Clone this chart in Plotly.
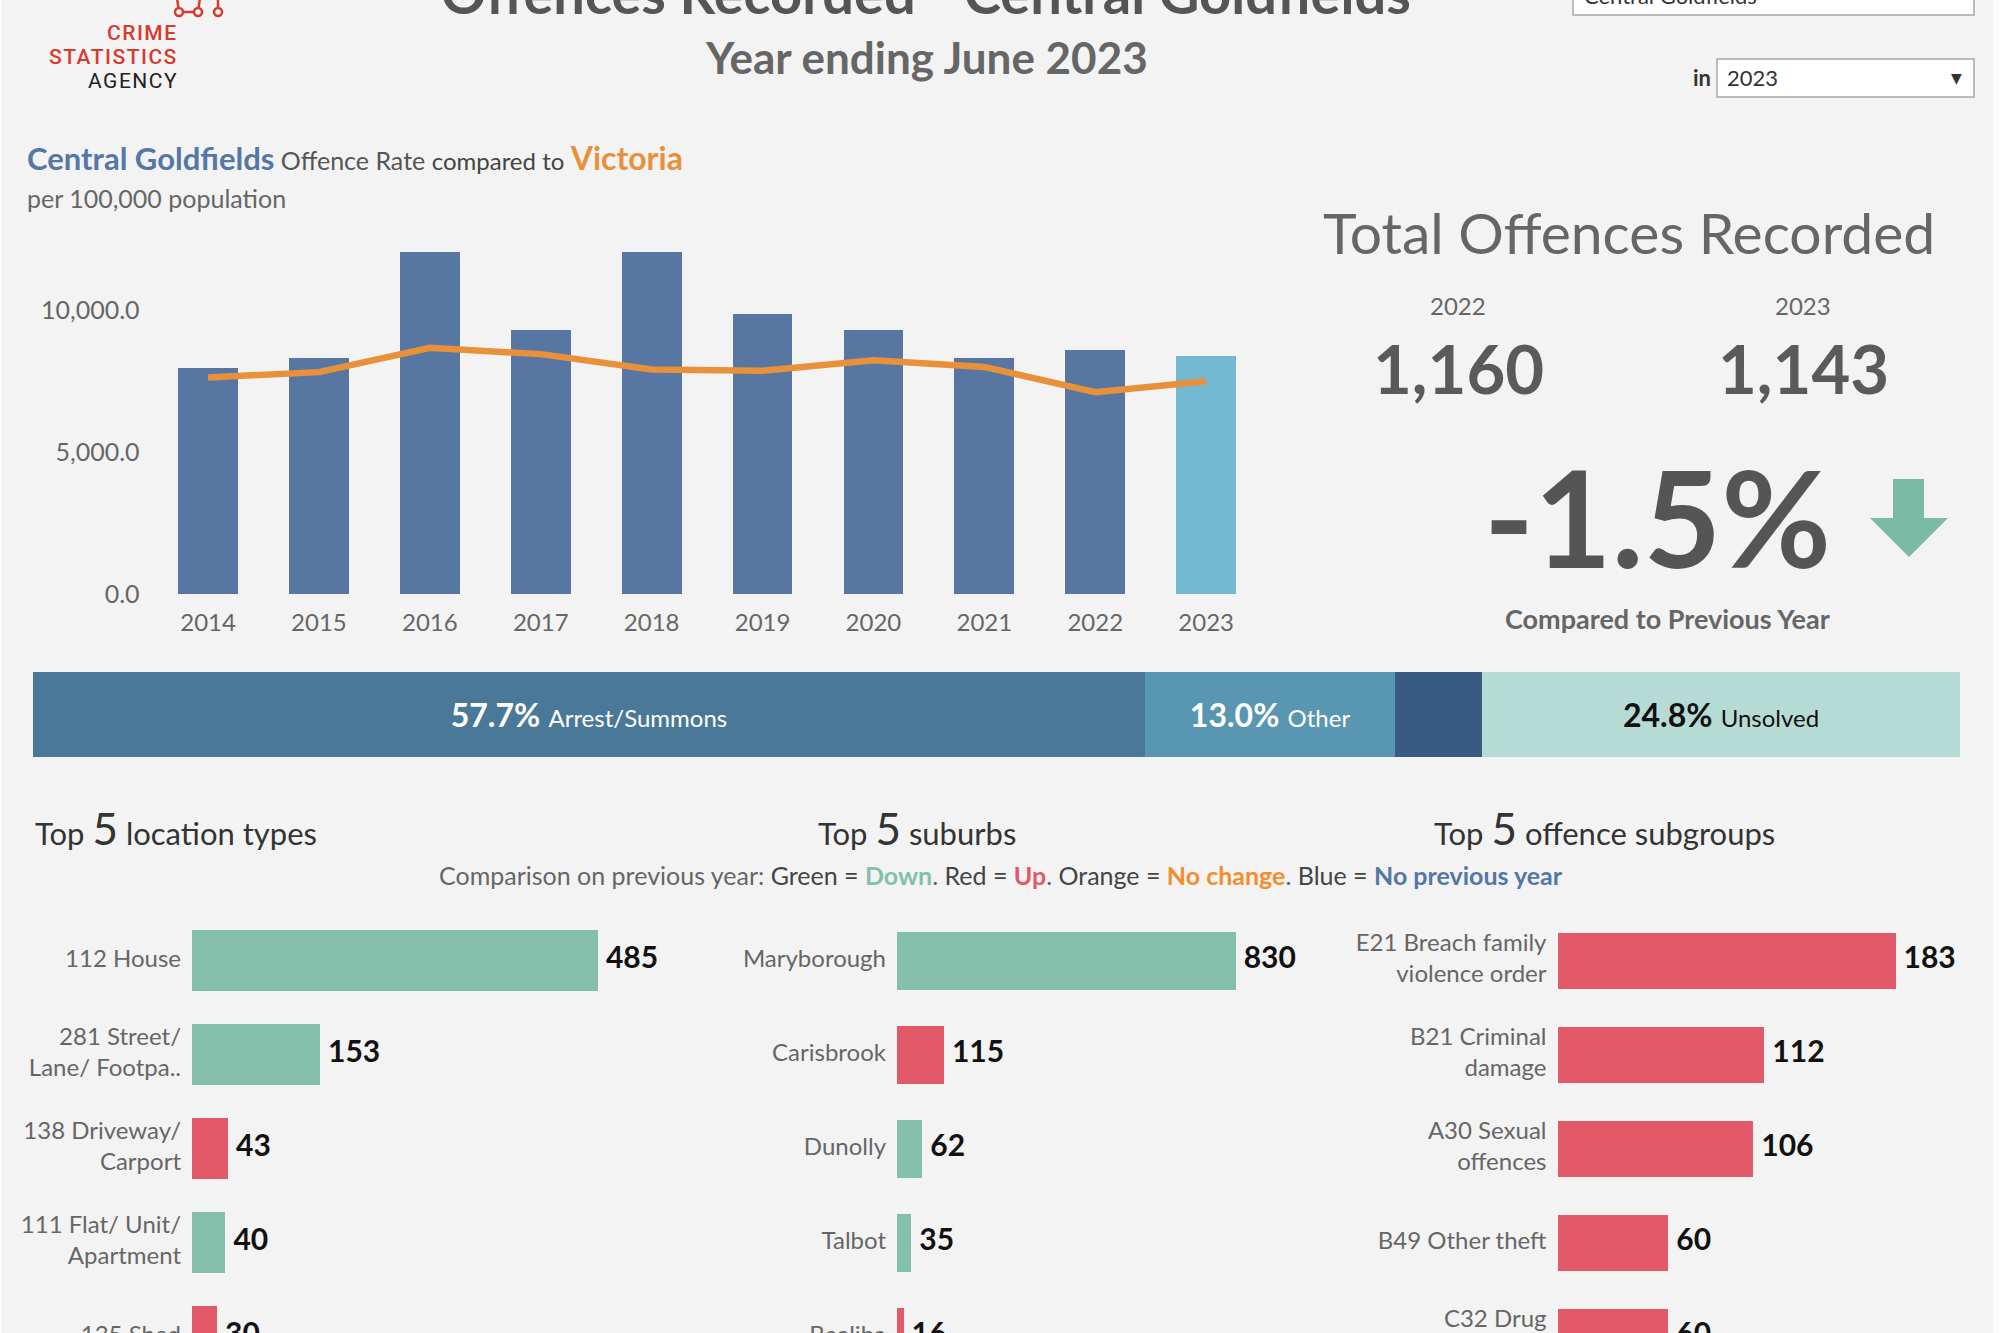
import plotly.graph_objects as go

# ---------------- data ----------------
years = ["2014", "2015", "2016", "2017", "2018", "2019", "2020", "2021", "2022", "2023"]
cg_rate = [7970, 8320, 12040, 9310, 12040, 9860, 9310, 8320, 8600, 8400]
vic_rate = [7630, 7815, 8670, 8450, 7910, 7860, 8230, 8000, 7105, 7495]
rate_ticks = [0, 5000, 10000]

total_years = ["2022", "2023"]
total_offences = [1160, 1143]
pct_change = -1.5

outcome_names = ["Arrest/Summons", "Other", "Other outcomes", "Unsolved"]
outcome_share = [57.7, 13.0, 4.5, 24.8]
outcome_labelled = [True, True, False, True]

loc_labels = ["112 House", "281 Street/<br>Lane/ Footpa..", "138 Driveway/<br>Carport",
              "111 Flat/ Unit/<br>Apartment", "135 Shed"]
loc_values = [485, 153, 43, 40, 30]
loc_status = ["down", "down", "up", "down", "up"]

sub_labels = ["Maryborough", "Carisbrook", "Dunolly", "Talbot", "Bealiba"]
sub_values = [830, 115, 62, 35, 16]
sub_status = ["down", "up", "down", "down", "up"]

grp_labels = ["E21 Breach family<br>violence order", "B21 Criminal<br>damage", "A30 Sexual<br>offences",
              "B49 Other theft", "C32 Drug<br>use and possession"]
grp_values = [183, 112, 106, 60, 60]
grp_status = ["up", "up", "up", "up", "up"]

# ---------------- style ----------------
W = 2000
H = 1400          # figure is a bit taller than the window; the window shows its top part
K = 1.0100        # vertical correction of the layout grid (window height vs. picture height)
BG = "#f3f3f3"
FONT = "Lato"
GREY = "#666666"
DARK = "#555555"
BLUE = "#5777a2"
LIGHTBLUE = "#73b8d1"
ORANGE = "#e8913a"
GREEN = "#83bfab"
RED = "#e25a69"
STATUS_COLORS = {"down": GREEN, "up": RED, "same": "#f28e2b", "new": "#4e79a7"}
OUTCOME_COLORS = ["#4a7899", "#5996b2", "#385a83", "#b6dbd4"]
OUTCOME_TEXT = ["white", "white", "white", "#111111"]


def fx(x):
    return x / W


def fy(y):
    return 1 - (y * K) / H


fig = go.Figure()

# ---- top chart: bars + Victoria line ----
fig.add_trace(go.Bar(
    x=years, y=cg_rate, width=0.54,
    marker=dict(color=[BLUE] * (len(years) - 1) + [LIGHTBLUE], line=dict(width=0)),
    xaxis="x", yaxis="y", hoverinfo="skip"))
fig.add_trace(go.Scatter(
    x=years, y=vic_rate, mode="lines", line=dict(color=ORANGE, width=6.5),
    xaxis="x", yaxis="y", hoverinfo="skip"))

# ---- stacked outcome bar ----
for name, share, lab, col, tcol in zip(outcome_names, outcome_share, outcome_labelled,
                                       OUTCOME_COLORS, OUTCOME_TEXT):
    txt_ = f"<b>{share:.1f}%</b> <span style='font-size:24px'>{name}</span>" if lab else ""
    fig.add_trace(go.Bar(
        x=[share], y=["status"], orientation="h", width=1,
        marker=dict(color=col, line=dict(width=0)),
        text=[txt_], textposition="inside", insidetextanchor="middle",
        textfont=dict(size=32, color=tcol, family=FONT), constraintext="none",
        xaxis="x2", yaxis="y2", hoverinfo="skip"))

# ---- bottom three bar charts ----
ROW_TOP = 914     # px top of first row slot
ROW_H = 94        # px per row
panels = [
    # labels, values, status, axis id, domain left px, zero px, px per unit, domain right px, bar width
    (loc_labels, loc_values, loc_status, 3, 0, 192, 0.837, 700, 0.65),
    (sub_labels, sub_values, sub_status, 4, 710, 897, 0.408, 1296, 0.61),
    (grp_labels, grp_values, grp_status, 5, 1304, 1557.5, 1.847, 1990, 0.59),
]
LABEL_GAP = 11
VALUE_GAP = 8
axis_layout = {}
n_visible = (H / K - ROW_TOP) / ROW_H
for labels, values, status, aid, dleft, zero, ppu, dright, bw in panels:
    xa, ya = f"x{aid}", f"y{aid}"
    fig.add_trace(go.Bar(
        x=values, y=labels, orientation="h", width=bw,
        marker=dict(color=[STATUS_COLORS[s] for s in status], line=dict(width=0)),
        xaxis=xa, yaxis=ya, hoverinfo="skip"))
    fig.add_trace(go.Scatter(
        x=[-LABEL_GAP / ppu] * len(labels), y=labels, mode="text", text=labels,
        textposition="middle left", textfont=dict(size=24, color=GREY, family=FONT),
        cliponaxis=True, xaxis=xa, yaxis=ya, hoverinfo="skip"))
    fig.add_trace(go.Scatter(
        x=[v + VALUE_GAP / ppu for v in values], y=labels, mode="text",
        text=[f"<b>{v:,}</b>" for v in values],
        textposition="middle right", textfont=dict(size=30, color="#111111", family=FONT),
        cliponaxis=True, xaxis=xa, yaxis=ya, hoverinfo="skip"))
    axis_layout[f"xaxis{aid}"] = dict(domain=[fx(dleft), fx(dright)],
                                      range=[-(zero - dleft) / ppu, (dright - zero) / ppu],
                                      visible=False, fixedrange=True)
    axis_layout[f"yaxis{aid}"] = dict(domain=[0, fy(ROW_TOP)], type="category",
                                      categoryorder="array", categoryarray=labels,
                                      range=[-0.5 + n_visible, -0.5], visible=False, fixedrange=True)

fig.update_layout(
    width=W, height=H, margin=dict(l=0, r=0, t=0, b=0),
    paper_bgcolor=BG, plot_bgcolor=BG, showlegend=False, barmode="stack",
    font=dict(family=FONT, color=GREY),
    xaxis=dict(domain=[fx(152.6), fx(1261.6)], type="category", range=[-0.5, 9.5],
               showgrid=False, zeroline=False, showline=False, ticks="",
               tickfont=dict(size=24, color=GREY), ticklabelstandoff=12, fixedrange=True),
    yaxis=dict(domain=[fy(594), fy(225)], range=[0, 13000], tickvals=rate_ticks, tickformat=",.1f",
               showgrid=False, zeroline=False, showline=False, ticks="",
               tickfont=dict(size=25, color=GREY), ticklabelstandoff=12, fixedrange=True),
    xaxis2=dict(domain=[fx(33), fx(1960)], range=[0, sum(outcome_share)], visible=False, fixedrange=True),
    yaxis2=dict(domain=[fy(757), fy(672)], range=[-0.5, 0.5], visible=False, fixedrange=True),
    **axis_layout,
)


def txt(x, y, s, size, color, xanchor="center", family=FONT, weight=None):
    font = dict(size=size, color=color, family=family)
    if weight:
        font["weight"] = weight
    return dict(x=fx(x), y=fy(y), xref="paper", yref="paper", text=s, showarrow=False,
                xanchor=xanchor, yanchor="middle", font=font)


ann = []
# header
ann.append(txt(926, -8, "<b>Offences Recorded - Central Goldfields</b>", 56, DARK))
ann.append(txt(926, 57, "<b>Year ending June 2023</b>", 44, GREY))
# logo
LS = "<span style='letter-spacing:1.5px'>{}</span>"
ann.append(txt(180, 33, LS.format("CRIME"), 21, "#d63b2f", "right", "Roboto", 500))
ann.append(txt(180, 57, LS.format("STATISTICS"), 21, "#d63b2f", "right", "Roboto", 500))
ann.append(txt(180, 81, LS.format("AGENCY"), 21, "#222222", "right", "Roboto"))
# dropdowns
ann.append(txt(1582, -5, "Central Goldfields", 22, "#333333", "left"))
ann.append(txt(1713, 78, "<b>in</b>", 22, "#333333", "right"))
ann.append(txt(1725, 78, total_years[1], 22, "#333333", "left"))
ann.append(txt(1956, 78, "▼", 14, "#333333", "center", "DejaVu Sans"))
# chart title
ann.append(txt(25, 158,
               "<b><span style='color:#5477a6;font-size:31px'>Central Goldfields</span></b> "
               "<span style='font-size:25px'>Offence Rate</span> "
               "<span style='font-size:24px;color:#444'>compared to</span> "
               "<b><span style='color:#e8913a;font-size:32px'>Victoria</span></b>",
               25, DARK, "left"))
ann.append(txt(25, 198, "per 100,000 population", 25, GREY, "left"))
# KPI
ann.append(txt(1629, 232, "Total Offences Recorded", 57, GREY))
kpi_x = [1458, 1803]
for xx, yr, val in zip(kpi_x, total_years, total_offences):
    ann.append(txt(xx, 306, yr, 24, GREY))
    ann.append(txt(xx, 368, f"<b>{val:,}</b>", 67, "#5a5a5a"))
ann.append(txt(1657, 517, f"<b>{pct_change:.1f}%</b>", 134, DARK))
ann.append(txt(1667, 619, "<b>Compared to Previous Year</b>", 27, GREY))
# section headings
ann.append(txt(33, 828, "Top <span style='font-size:44px'>5</span> location types", 31, "#333333", "left"))
ann.append(txt(816, 828, "Top <span style='font-size:44px'>5</span> suburbs", 31, "#333333", "left"))
ann.append(txt(1432, 828, "Top <span style='font-size:44px'>5</span> offence subgroups", 31, "#333333", "left"))
ann.append(txt(1001, 875,
               "Comparison on previous year: <span style='color:#444'>Green =</span> "
               f"<b><span style='color:{GREEN}'>Down</span></b>. <span style='color:#444'>Red =</span> "
               f"<b><span style='color:{RED}'>Up</span></b>. <span style='color:#444'>Orange =</span> "
               "<b><span style='color:#f28e2b'>No change</span></b>. <span style='color:#444'>Blue =</span> "
               "<b><span style='color:#5477a6'>No previous year</span></b>",
               25, GREY))
fig.update_layout(annotations=ann)

# ---------------- decorative shapes ----------------
shapes = []
# page edges
shapes.append(dict(type="rect", xref="paper", yref="paper", x0=fx(1993), x1=1, y0=0, y1=1,
                   fillcolor="#fbfbfb", line=dict(width=0), layer="below"))
shapes.append(dict(type="rect", xref="paper", yref="paper", x0=0, x1=fx(2), y0=0, y1=1,
                   fillcolor="#fbfbfb", line=dict(width=0), layer="below"))
# dropdown boxes
for (x0, y0, x1, y1) in [(1573, -10, 1974, 15), (1717, 59, 1974, 97)]:
    shapes.append(dict(type="rect", xref="paper", yref="paper", x0=fx(x0), x1=fx(x1), y0=fy(y1), y1=fy(y0),
                       fillcolor="white", line=dict(color="#a8a8a8", width=1.5), layer="below"))
# logo icon
LOGO_RED = "#d63b2f"
for (a, b, c, d) in [(179, 12, 198, 12), (179, 12, 177, -2), (198, 12, 200, -2), (218, 12, 218, -2)]:
    shapes.append(dict(type="line", xref="paper", yref="paper", x0=fx(a), y0=fy(b), x1=fx(c), y1=fy(d),
                       line=dict(color=LOGO_RED, width=2.5)))
for cx in [179, 198, 218]:
    shapes.append(dict(type="circle", xref="paper", yref="paper", x0=fx(cx - 4), x1=fx(cx + 4),
                       y0=fy(16), y1=fy(8), fillcolor=BG, line=dict(color=LOGO_RED, width=2.5)))
# down arrow
pts = [(1893, 479), (1924, 479), (1924, 518), (1948, 518), (1909, 557), (1870, 518), (1893, 518)]
path = "M" + " L".join(f"{fx(a):.5f},{fy(b):.5f}" for a, b in pts) + " Z"
shapes.append(dict(type="path", xref="paper", yref="paper", path=path,
                   fillcolor="#7bbaa5", line=dict(width=0)))
fig.update_layout(shapes=shapes)

fig.write_html(
    "out.html",
    config={"displayModeBar": False},
    post_script="document.body.style.margin='0px';document.body.style.overflow='hidden';"
                "document.documentElement.style.overflow='hidden';",
)
